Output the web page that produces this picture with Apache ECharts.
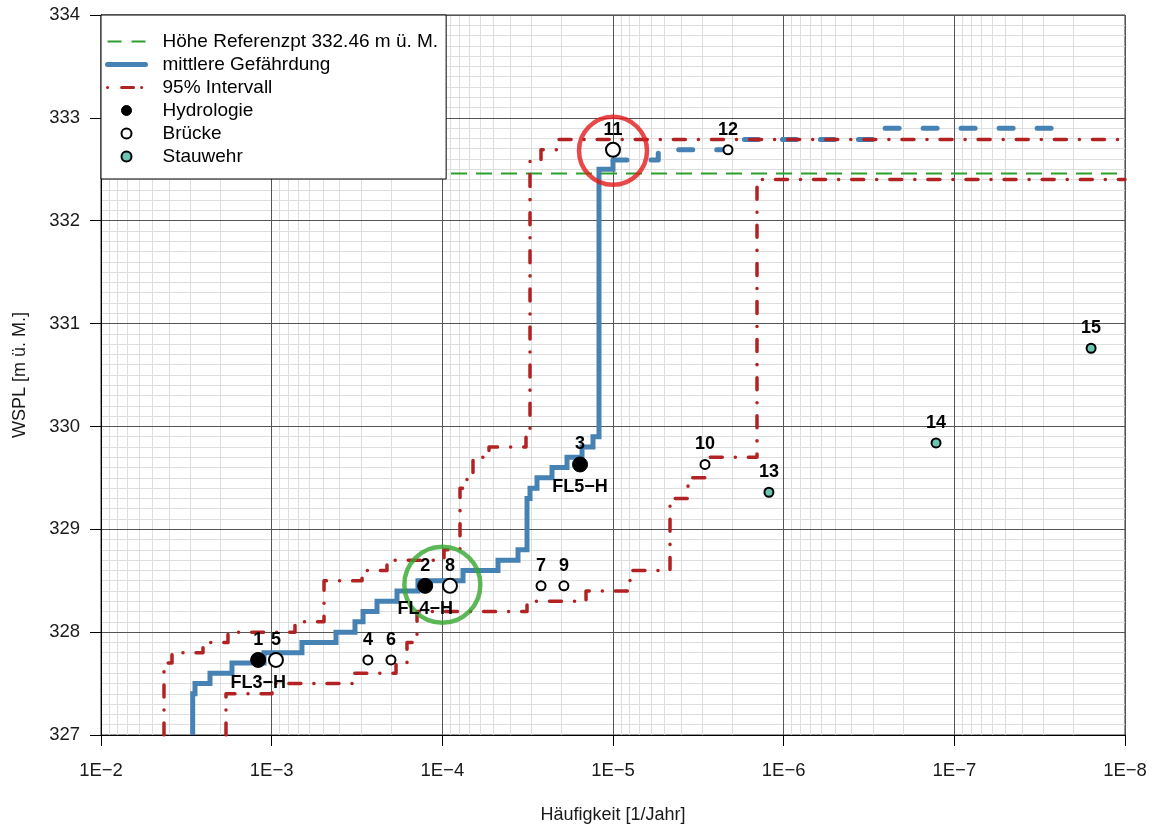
<!DOCTYPE html>
<html>
<head>
<meta charset="utf-8">
<script src="https://cdn.jsdelivr.net/npm/echarts@6.0.0/dist/echarts.min.js"></script>
<style>
html,body{margin:0;padding:0;background:#fff;}
#chart{width:1154px;height:830px;}
</style>
</head>
<body>
<div id="chart"></div>
<script>
// ---------------- data ----------------
const X_TICK_EXPONENTS = [-2, -3, -4, -5, -6, -7, -8];
const X_TICK_LABELS = ['1E\u22122', '1E\u22123', '1E\u22124', '1E\u22125', '1E\u22126', '1E\u22127', '1E\u22128'];
const X_MINOR_MANTISSAS = [2, 3, 4, 5, 6, 7, 8, 9];
const Y_MIN = 327, Y_MAX = 334;

const REF_LEVEL = 332.46;

// mean hazard (step line): start, then frequencies where it rises and the new level
const MEAN_START = [2.902e-3, 327.0];
const MEAN_RISE_FREQ = [2.902e-3, 2.813e-3, 2.298e-3, 1.708e-3, 1.109e-3, 6.645e-4, 4.198e-4, 3.249e-4,
  2.915e-4, 2.414e-4, 1.843e-4, 1.389e-4, 7.566e-5, 4.718e-5, 3.602e-5, 3.190e-5, 3.064e-5, 2.788e-5,
  2.277e-5, 1.860e-5, 1.519e-5, 1.310e-5, 1.208e-5, 1.0e-5];
const MEAN_RISE_LEVEL = [327.4, 327.5, 327.6, 327.7, 327.8, 327.9, 328.0, 328.1,
  328.2, 328.3, 328.4, 328.5, 328.6, 328.7, 328.8, 329.3, 329.4, 329.5,
  329.6, 329.7, 329.8, 329.9, 332.5, 332.59];

// mean hazard, extrapolated part (dashed)
const MEAN_EXT_START = [1.0e-5, 332.59];
const MEAN_EXT_RISE_FREQ = [5.43e-6, 1.80e-6, 2.85e-7];
const MEAN_EXT_RISE_LEVEL = [332.69, 332.79, 332.90];
const MEAN_EXT_END = 2.25e-8;

// 95% interval, upper (left) bound
const CI_LEFT_START = [4.275e-3, 327.0];
const CI_LEFT_RISE_FREQ = [4.275e-3, 3.837e-3, 2.526e-3, 1.803e-3, 7.301e-4, 4.935e-4, 2.955e-4, 2.110e-4,
  9.777e-5, 7.878e-5, 7.170e-5, 6.612e-5, 5.328e-5, 3.234e-5, 3.064e-5, 2.642e-5, 2.129e-5];
const CI_LEFT_RISE_LEVEL = [327.7, 327.8, 327.9, 328.0, 328.1, 328.5, 328.6, 328.7,
  328.8, 329.4, 329.5, 329.7, 329.8, 329.9, 332.59, 332.69, 332.79];
const CI_LEFT_END = 1e-8;

// 95% interval, lower (right) bound
const CI_RIGHT_START = [1.852e-3, 327.0];
const CI_RIGHT_RISE_FREQ = [1.852e-3, 9.954e-4, 3.293e-4, 1.868e-4, 1.611e-4, 1.407e-4, 3.190e-5, 1.439e-5,
  7.95e-6, 4.634e-6, 3.635e-6, 2.852e-6, 1.433e-6];
const CI_RIGHT_RISE_LEVEL = [327.4, 327.5, 327.6, 327.7, 327.9, 328.2, 328.3, 328.4,
  328.6, 329.3, 329.5, 329.7, 332.4];
const CI_RIGHT_END = 1e-8;

// points
const HYDRO_FREQ = [1.20e-3, 1.26e-4, 1.56e-5];
const HYDRO_LEVEL = [327.73, 328.45, 329.63];
const HYDRO_ID = ['1', '2', '3'];
const HYDRO_TAG = ['FL3\u2212H', 'FL4\u2212H', 'FL5\u2212H'];

const BRIDGE_FREQ = [2.73e-4, 9.44e-4, 2.00e-4, 2.64e-5, 9.02e-5, 1.94e-5, 2.89e-6, 1.0e-5, 2.12e-6];
const BRIDGE_LEVEL = [327.73, 327.73, 327.73, 328.45, 328.45, 328.45, 329.63, 332.69, 332.69];
const BRIDGE_ID = ['4', '5', '6', '7', '8', '9', '10', '11', '12'];

const WEIR_FREQ = [1.22e-6, 1.28e-7, 1.58e-8];
const WEIR_LEVEL = [329.36, 329.84, 330.76];
const WEIR_ID = ['13', '14', '15'];

// highlighted locations (circles)
const HIGHLIGHT_FREQ = [1.0e-4, 1.0e-5];
const HIGHLIGHT_LEVEL = [328.46, 332.68];

// ---------------- styling ----------------
const FONT = '"Liberation Sans", Arial, Helvetica, sans-serif';
const BIG_BRIDGES = ['5', '8', '11'];
const NAME_REF = 'H\u00f6he Referenzpt 332.46 m \u00fc. M.';
const NAME_MEAN = 'mittlere Gef\u00e4hrdung';
const NAME_CI = '95% Intervall';
const NAME_HYDRO = 'Hydrologie';
const NAME_BRIDGE = 'Br\u00fccke';
const NAME_WEIR = 'Stauwehr';

function stepPoints(start, riseFreq, riseLevel, endFreq) {
  const pts = [[start[0], start[1]]];
  let lvl = start[1];
  for (let i = 0; i < riseFreq.length; i++) {
    pts.push([riseFreq[i], lvl]);
    pts.push([riseFreq[i], riseLevel[i]]);
    lvl = riseLevel[i];
  }
  if (endFreq !== undefined) pts.push([endFreq, lvl]);
  return pts;
}

const minorX = [];
for (let e = -8; e <= -3; e++) {
  X_MINOR_MANTISSAS.forEach(m => minorX.push(Number(m + 'e' + e)));
}

const numLabel = {
  show: true, position: 'inside', offset: [0, -20],
  fontFamily: FONT, fontSize: 18, fontWeight: 'bold', color: '#000',
  textBorderWidth: 0, textBorderColor: 'transparent', textShadowBlur: 0
};
const boldText = {fontFamily: FONT, fontSize: 18, fontWeight: 'bold', color: '#000',
  textBorderWidth: 0, textBorderColor: 'transparent'};

const chart = echarts.init(document.getElementById('chart'), null, {renderer: 'canvas'});
chart.setOption({
  animation: false,
  backgroundColor: '#fff',
  grid: {left: 101, right: 29, top: 15, bottom: 95, show: true, borderColor: '#333', borderWidth: 1,
    backgroundColor: 'transparent', containLabel: false, outerBoundsMode: 'none'},
  legend: {
    orient: 'vertical', left: 101, top: 15,
    padding: [17, 8, 13, 4],
    itemWidth: 38, itemHeight: 10, itemGap: 4,
    backgroundColor: '#fff', borderColor: '#000', borderWidth: 1, borderRadius: 0,
    selectedMode: false, z: 10,
    textStyle: {fontFamily: FONT, fontSize: 19, color: '#000', lineHeight: 18, padding: [0, 0, 0, 12]},
    data: [
      {name: NAME_REF, itemStyle: {opacity: 0}, lineStyle: {color: '#2CA02C', width: 2, type: [14, 10]}},
      {name: NAME_MEAN, itemStyle: {opacity: 0}, lineStyle: {color: '#4682B4', width: 5, cap: 'round'}},
      {name: NAME_CI, itemStyle: {opacity: 0}, lineStyle: {color: '#B22222', width: 3, type: [0.1, 14, 12, 8], cap: 'round'}},
      {name: NAME_HYDRO, itemStyle: {color: '#000', borderColor: '#000', borderWidth: 1}},
      {name: NAME_BRIDGE, itemStyle: {color: '#fff', borderColor: '#000', borderWidth: 2}},
      {name: NAME_WEIR, itemStyle: {color: '#6CC5B0', borderColor: '#000', borderWidth: 2}}
    ]
  },
  xAxis: {
    type: 'log', logBase: 10, min: 1e-8, max: 1e-2, interval: 1, inverse: true, z: 1,
    name: 'H\u00e4ufigkeit [1/Jahr]', nameLocation: 'middle', nameGap: 71,
    nameTextStyle: {fontFamily: FONT, fontSize: 18, color: '#1a1a1a'},
    axisLine: {show: true, onZero: false, lineStyle: {color: '#000', width: 1}},
    axisTick: {show: true, inside: false, length: 11, lineStyle: {color: '#000', width: 1}},
    axisLabel: {show: true, margin: 26, fontFamily: FONT, fontSize: 18.5, color: '#1a1a1a',
      formatter: v => {
        const e = Math.round(Math.log10(v));
        const i = X_TICK_EXPONENTS.indexOf(e);
        return i >= 0 ? X_TICK_LABELS[i] : '';
      }},
    splitLine: {show: true, lineStyle: {color: '#555', width: 1}},
    minorTick: {show: false}, minorSplitLine: {show: false}
  },
  yAxis: {
    type: 'value', min: Y_MIN, max: Y_MAX, interval: 1, z: 1,
    name: 'WSPL [m \u00fc. M.]', nameLocation: 'middle', nameGap: 72, nameRotate: 90,
    nameTextStyle: {fontFamily: FONT, fontSize: 18, color: '#1a1a1a'},
    axisLine: {show: true, onZero: false, lineStyle: {color: '#000', width: 1}},
    axisTick: {show: true, inside: false, length: 11, lineStyle: {color: '#000', width: 1}},
    axisLabel: {show: true, margin: 21, fontFamily: FONT, fontSize: 18.5, color: '#1a1a1a'},
    splitLine: {show: true, lineStyle: {color: '#555', width: 1}},
    minorTick: {show: false, splitNumber: 10},
    minorSplitLine: {show: true, lineStyle: {color: '#dedede', width: 1}}
  },
  series: [
    {
      name: 'minor-grid', type: 'lines', coordinateSystem: 'cartesian2d', z: 0, silent: true,
      polyline: false, animation: false,
      lineStyle: {color: '#dedede', width: 1, opacity: 1, curveness: 0},
      data: minorX.map(v => ({coords: [[v, Y_MIN], [v, Y_MAX]]}))
    },
    {
      name: NAME_REF, type: 'line', symbol: 'none', z: 2, silent: true,
      data: [[1e-2, REF_LEVEL], [1e-8, REF_LEVEL]],
      lineStyle: {color: '#2CA02C', width: 2, type: [16, 9]}
    },
    {
      name: NAME_MEAN, type: 'line', symbol: 'none', z: 3, silent: true,
      data: stepPoints(MEAN_START, MEAN_RISE_FREQ, MEAN_RISE_LEVEL),
      lineStyle: {color: '#4682B4', width: 5, cap: 'butt', join: 'miter'}
    },
    {
      name: 'mean-extrapolated', type: 'line', symbol: 'none', z: 3, silent: true,
      data: stepPoints(MEAN_EXT_START, MEAN_EXT_RISE_FREQ, MEAN_EXT_RISE_LEVEL, MEAN_EXT_END),
      lineStyle: {color: '#4682B4', width: 5, type: [14, 24], cap: 'round', join: 'round'}
    },
    {
      name: NAME_CI, type: 'line', symbol: 'none', z: 4, silent: true,
      data: stepPoints(CI_LEFT_START, CI_LEFT_RISE_FREQ, CI_LEFT_RISE_LEVEL, CI_LEFT_END),
      lineStyle: {color: '#B22222', width: 3.5, type: [12, 13, 0.1, 13], cap: 'round', join: 'round'}
    },
    {
      name: NAME_CI, type: 'line', symbol: 'none', z: 4, silent: true,
      data: stepPoints(CI_RIGHT_START, CI_RIGHT_RISE_FREQ, CI_RIGHT_RISE_LEVEL, CI_RIGHT_END),
      lineStyle: {color: '#B22222', width: 3.5, type: [12, 13, 0.1, 13], cap: 'round', join: 'round'}
    },
    {
      name: 'highlight', type: 'scatter', z: 5, silent: true, symbol: 'circle',
      data: [
        {value: [HIGHLIGHT_FREQ[0], HIGHLIGHT_LEVEL[0]], symbolSize: 76,
          itemStyle: {color: 'rgba(0,0,0,0)', borderColor: '#35A82E', borderWidth: 4.5}},
        {value: [HIGHLIGHT_FREQ[1], HIGHLIGHT_LEVEL[1]], symbolSize: 68,
          itemStyle: {color: 'rgba(0,0,0,0)', borderColor: '#E41A1C', borderWidth: 4.5}}
      ]
    },
    {
      name: NAME_HYDRO, type: 'scatter', z: 6, silent: true, symbol: 'circle', symbolSize: 15,
      itemStyle: {color: '#000', borderColor: '#000', borderWidth: 1, opacity: 1},
      label: {
        show: true, position: 'inside', offset: [0, 0],
        textBorderWidth: 0, textBorderColor: 'transparent',
        formatter: p => '{n|' + HYDRO_ID[p.dataIndex] + '}\n{s| }\n{t|' + HYDRO_TAG[p.dataIndex] + '}',
        rich: {
          n: Object.assign({}, boldText, {lineHeight: 26}),
          s: Object.assign({}, boldText, {lineHeight: 20}),
          t: Object.assign({}, boldText, {lineHeight: 20})
        }
      },
      data: HYDRO_FREQ.map((f, i) => [f, HYDRO_LEVEL[i]])
    },
    {
      name: NAME_BRIDGE, type: 'scatter', z: 6, silent: true, symbol: 'circle',
      itemStyle: {color: '#fff', borderColor: '#000', borderWidth: 2, opacity: 1},
      label: Object.assign({}, numLabel, {formatter: p => BRIDGE_ID[p.dataIndex]}),
      data: BRIDGE_FREQ.map((f, i) => ({
        value: [f, BRIDGE_LEVEL[i]],
        symbolSize: BIG_BRIDGES.indexOf(BRIDGE_ID[i]) >= 0 ? 14 : 9
      }))
    },
    {
      name: NAME_WEIR, type: 'scatter', z: 6, silent: true, symbol: 'circle', symbolSize: 9,
      itemStyle: {color: '#6CC5B0', borderColor: '#000', borderWidth: 2, opacity: 1},
      label: Object.assign({}, numLabel, {formatter: p => WEIR_ID[p.dataIndex]}),
      data: WEIR_FREQ.map((f, i) => [f, WEIR_LEVEL[i]])
    }
  ]
});
</script>
</body>
</html>
